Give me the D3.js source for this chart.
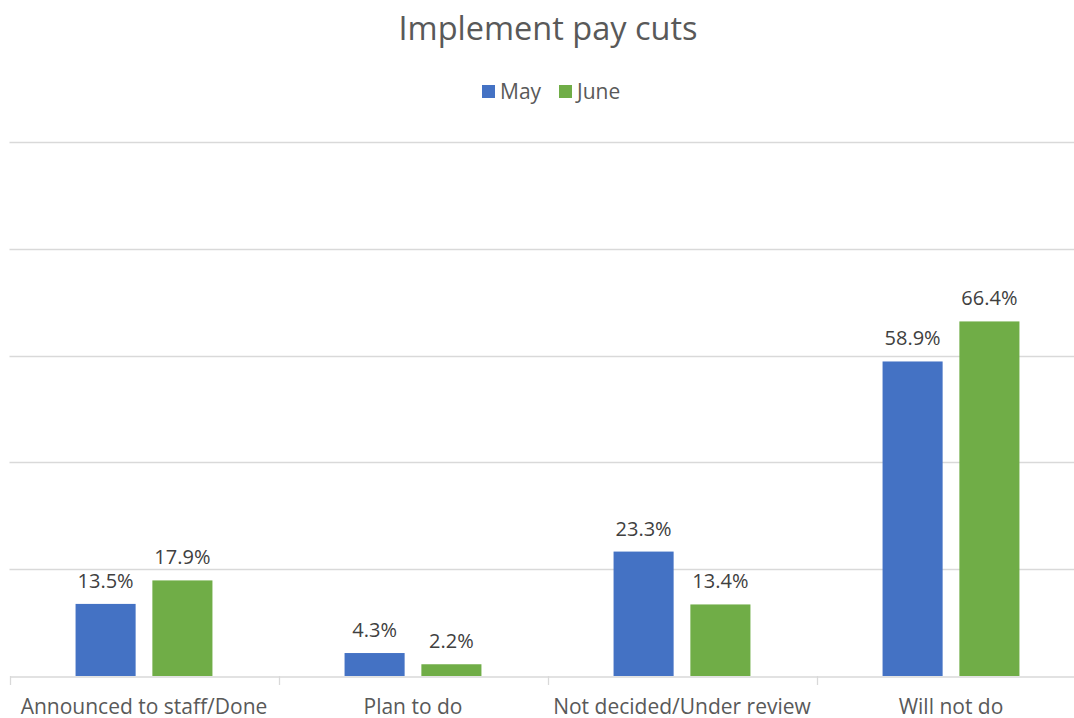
<!DOCTYPE html>
<html>
<head>
<meta charset="utf-8">
<script src="https://cdn.jsdelivr.net/npm/d3@7"></script>
<style>
  body { margin: 0; background: #fff; }
  text { font-family: "Open Sans", "Noto Sans", sans-serif; }
</style>
</head>
<body>
<script>
const categories = ['Announced to staff/Done', 'Plan to do', 'Not decided/Under review', 'Will not do'];
const seriesNames = ['May', 'June'];
const mayValues = [13.5, 4.3, 23.3, 58.9];
const juneValues = [17.9, 2.2, 13.4, 66.4];
const gridTicks = [0, 20, 40, 60, 80, 100];
const colors = ['#4472C4', '#70AD47'];

const width = 1074, height = 718;

const svg = d3.select('body').append('svg')
  .attr('width', width)
  .attr('height', height);

// x band per category, sub band per series
const x = d3.scaleBand()
  .domain(categories)
  .range([9.5, 1085.5])
  .paddingInner(0)
  .paddingOuter(0);

const xSub = d3.scaleBand()
  .domain(seriesNames)
  .range([0, x.bandwidth()])
  .paddingInner(0.218)
  .paddingOuter(0.86);

const y = d3.scaleLinear()
  .domain([0, 100])
  .range([676, 142]);

// gridlines
svg.append('g')
  .selectAll('line')
  .data(gridTicks.slice(1))
  .enter().append('line')
  .attr('x1', 9.5)
  .attr('x2', width)
  .attr('y1', d => Math.round(y(d)) + 0.5)
  .attr('y2', d => Math.round(y(d)) + 0.5)
  .attr('stroke', '#d9d9d9')
  .attr('stroke-width', 1.3);

// title
svg.append('text')
  .attr('x', 548)
  .attr('y', 40)
  .attr('text-anchor', 'middle')
  .attr('fill', '#595959')
  .style('font-size', '32.5px')
  .text('Implement pay cuts');

// legend
const legend = svg.append('g');
const legendItems = [{ name: 'May', x: 482 }, { name: 'June', x: 559 }];
legendItems.forEach((d, i) => {
  legend.append('rect')
    .attr('x', d.x)
    .attr('y', 85)
    .attr('width', 13)
    .attr('height', 13)
    .attr('fill', colors[i]);
  legend.append('text')
    .attr('x', d.x + 18)
    .attr('y', 99)
    .attr('fill', '#595959')
    .style('font-size', '21px')
    .text(d.name);
});

const rows = categories.map((c, i) => ({ cat: c, vals: [mayValues[i], juneValues[i]] }));

const groups = svg.append('g')
  .selectAll('g')
  .data(rows)
  .enter().append('g')
  .attr('transform', d => `translate(${x(d.cat)},0)`);

groups.selectAll('rect')
  .data(d => d.vals.map((v, i) => ({ s: seriesNames[i], v, i })))
  .enter().append('rect')
  .attr('x', d => xSub(d.s))
  .attr('width', xSub.bandwidth())
  .attr('y', d => y(d.v))
  .attr('height', d => y(0) - y(d.v))
  .attr('fill', d => colors[d.i]);

groups.selectAll('text.val')
  .data(d => d.vals.map((v, i) => ({ s: seriesNames[i], v, i })))
  .enter().append('text')
  .attr('class', 'val')
  .attr('x', d => xSub(d.s) + xSub.bandwidth() / 2)
  .attr('y', d => y(d.v) - 16)
  .attr('text-anchor', 'middle')
  .attr('fill', '#404040')
  .style('font-size', '20px')
  .text(d => d.v.toFixed(1) + '%');

// x axis
const xAxis = d3.axisBottom(x).tickSize(0).tickPadding(0);
const axisG = svg.append('g')
  .attr('transform', `translate(0,${Math.round(y(0)) + 0.5})`)
  .call(xAxis);
axisG.select('.domain').attr('stroke', '#d9d9d9').attr('stroke-width', 1.3);
axisG.selectAll('.tick text')
  .attr('y', 37)
  .attr('dy', null)
  .attr('fill', '#595959')
  .style('font-size', '21px')
  .style('font-family', '"Open Sans", "Noto Sans", sans-serif');

// category separator ticks
svg.append('g')
  .selectAll('line')
  .data(categories)
  .enter().append('line')
  .attr('x1', d => Math.round(x(d)) + 0.5)
  .attr('x2', d => Math.round(x(d)) + 0.5)
  .attr('y1', Math.round(y(0)))
  .attr('y2', Math.round(y(0)) + 9)
  .attr('stroke', '#d9d9d9')
  .attr('stroke-width', 1.3);
</script>
</body>
</html>
